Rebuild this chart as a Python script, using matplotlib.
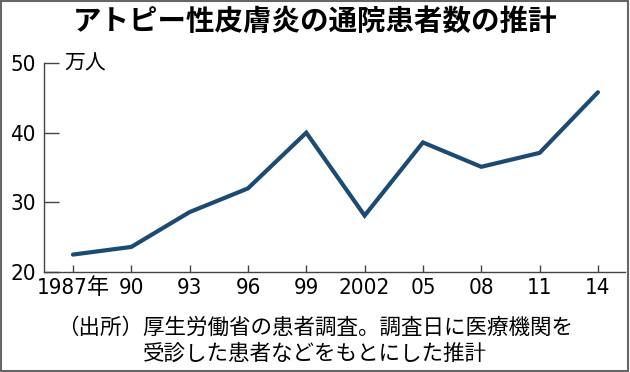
import matplotlib.pyplot as plt
from matplotlib.patches import Rectangle

plt.rcParams['font.family'] = ['Noto Sans CJK JP', 'DejaVu Sans']

years = [1987, 1990, 1993, 1996, 1999, 2002, 2005, 2008, 2011, 2014]
patients = [22.5, 23.6, 28.6, 32.0, 40.0, 28.1, 38.6, 35.1, 37.1, 45.8]
tick_labels = ['1987年', '90', '93', '96', '99', '2002', '05', '08', '11', '14']
y_ticks = [20, 30, 40, 50]

num_font = ['DejaVu Sans', 'Noto Sans CJK JP']

fig = plt.figure(figsize=(6.3, 3.72), dpi=100)
ax = fig.add_axes([0.0698, 0.2688, 0.9222, 0.5618])

ax.plot(years, patients, color='#1b4a73', linewidth=3.0, solid_capstyle='round',
        solid_joinstyle='miter')

ax.set_xlim(1985.51, 2015.39)
ax.set_ylim(20, 50)
ax.set_xticks(years)
ax.set_xticklabels(tick_labels, family=num_font, fontsize=16, stretch='condensed')
ax.set_yticks(y_ticks)
ax.set_yticklabels([str(v) for v in y_ticks], family=num_font, fontsize=16,
                   stretch='condensed')

ax.tick_params(axis='y', direction='in', length=11, width=1, color='#444444', pad=6)
ax.tick_params(axis='x', direction='in', length=5, width=1, color='#444444', pad=4)

for s in ['top', 'right']:
    ax.spines[s].set_visible(False)
for s in ['left', 'bottom']:
    ax.spines[s].set_color('#444444')
    ax.spines[s].set_linewidth(1)

ax.text(1986.55, 50, '万人', fontsize=15, va='center', ha='left')

fig.text(0.5, 0.94, 'アトピー性皮膚炎の通院患者数の推計', fontsize=20.5, fontweight='bold',
         ha='center', va='center')
fig.text(0.5, 0.12, '（出所）厚生労働省の患者調査。調査日に医療機関を', fontsize=15.5,
         ha='center', va='center')
fig.text(0.5, 0.05, '受診した患者などをもとにした推計', fontsize=15.5,
         ha='center', va='center')

fig.patches.append(Rectangle((0.002, 0.003), 0.995, 0.994, transform=fig.transFigure,
                             fill=False, edgecolor='#666666', linewidth=1.5))

fig.savefig('out.png', dpi=100)
